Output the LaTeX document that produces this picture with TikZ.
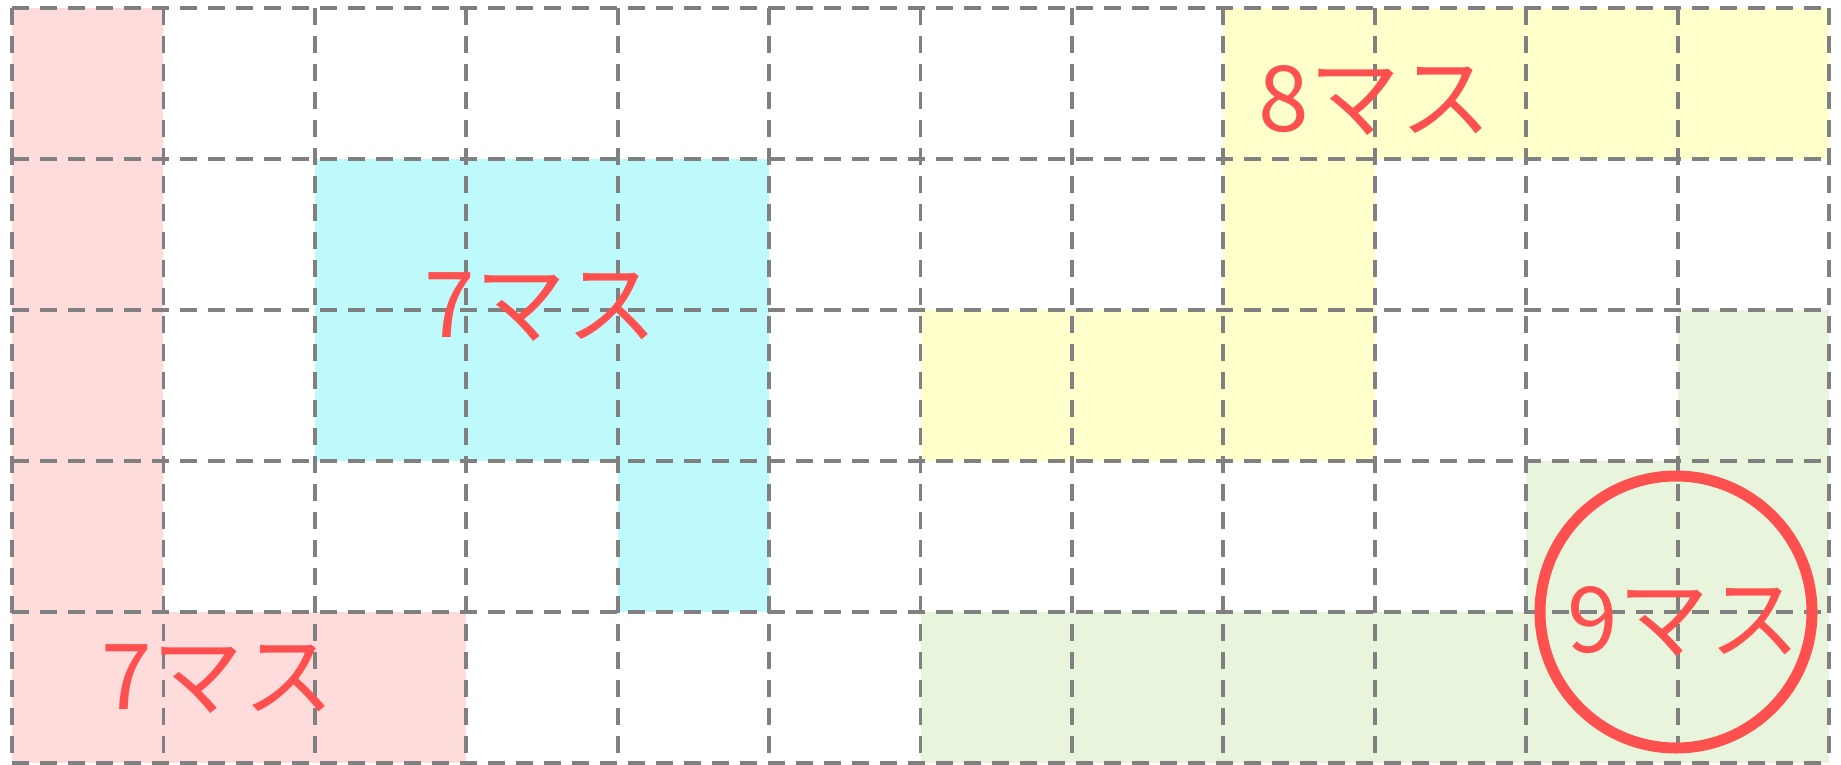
\documentclass[tikz,border=0pt]{standalone}
\usepackage{fontspec}
\newfontfamily\jpfont{Noto Sans CJK JP}
\definecolor{pinkfill}{RGB}{255,220,220}
\definecolor{cyanfill}{RGB}{190,250,252}
\definecolor{yellowfill}{RGB}{255,255,204}
\definecolor{greenfill}{RGB}{232,245,220}
\definecolor{redtext}{RGB}{255,80,80}
\definecolor{gridgray}{RGB}{128,128,128}
\newcommand{\blk}[5]{\fill[#1] ({12+151.42*#2},{8+151*#3}) rectangle ({12+151.42*#4},{8+151*#5});}
\tikzset{
  gridline/.style={draw=gridgray, line width=1.9pt, dash pattern=on 8.4pt off 5.6pt},
  label/.style={text=redtext, font=\jpfont\fontsize{45.5pt}{50pt}\selectfont, anchor=base, inner sep=0pt},
  ring/.style={circle, draw=redtext, line width=5.5pt, minimum size=136pt, inner sep=0pt}
}
\begin{document}
\begin{tikzpicture}[x=0.5pt,y=-0.5pt]
\useasboundingbox (0,0) rectangle (1841,765);
% fills
\blk{pinkfill}{0}{0}{1}{5}
\blk{pinkfill}{0}{4}{3}{5}
\blk{cyanfill}{2}{1}{5}{3}
\blk{cyanfill}{4}{3}{5}{4}
\blk{yellowfill}{8}{0}{12}{1}
\blk{yellowfill}{8}{1}{9}{2}
\blk{yellowfill}{6}{2}{9}{3}
\blk{greenfill}{6}{4}{12}{5}
\blk{greenfill}{10}{3}{12}{4}
\blk{greenfill}{11}{2}{12}{3}
% grid
\foreach \i in {0,...,12} \draw[gridline] ({12+151.42*\i},8) -- ({12+151.42*\i},763);
\foreach \j in {0,...,5} \draw[gridline] (12,{8+151*\j}) -- (1829,{8+151*\j});
% labels
\node[label] (t7a) at (541,337) {7マス};
\node[label] (t8) at (1375,132) {8マス};
\node[label] (t7b) at (218,709) {7マス};
\node[label] (t9) at (1684,652) {9マス};
\node[ring] (c9) at (1676,612) {};
\end{tikzpicture}
\end{document}
